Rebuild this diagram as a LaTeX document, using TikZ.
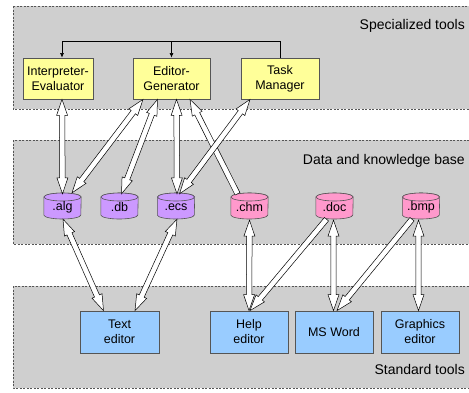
\documentclass[tikz,border=0pt]{standalone}
\usepackage{fontspec}
\setmainfont{Liberation Sans}
\usetikzlibrary{calc,arrows.meta}

\pgfdeclarelayer{panel}
\pgfdeclarelayer{body}
\pgfsetlayers{panel,body,main}

\definecolor{panelgray}{HTML}{CFCFCF}
\definecolor{toolyellow}{HTML}{FFFF99}
\definecolor{dbviolet}{HTML}{CC99FF}
\definecolor{dbpink}{HTML}{FF99CC}
\definecolor{stdblue}{HTML}{99CCFF}
\definecolor{edgegray}{HTML}{555555}

\tikzset{
  panelbox/.style={fill=panelgray, draw=edgegray, dash pattern=on 2pt off 1.5pt, line width=0.6pt},
  panellabel/.style={anchor=base east, font=\fontsize{14}{16}\selectfont, inner sep=0pt},
  toolbox/.style={draw=edgegray, line width=0.8pt, align=center, inner sep=0pt,
    font=\fontsize{12.5}{15}\selectfont},
  drumnode/.style={minimum width=37pt, minimum height=26pt, inner sep=0pt,
    font=\fontsize{12.5}{15}\selectfont},
  drumline/.style={draw=edgegray, line width=0.6pt},
  hollow/.style={fill=white, draw=black, line width=0.5pt, line join=miter},
  busline/.style={draw=black, line width=0.6pt},
  bustip/.style={-{Latex[length=4.5pt,width=4pt]}},
}

% database drum drawn behind the named node #1
\newcommand\drum[2]{%
  \begin{pgfonlayer}{body}
    \filldraw[drumline, fill=#2]
      ($(#1.west)+(0,-10)$) -- ($(#1.west)+(0,8)$)
      arc[start angle=180, end angle=360, x radius=18.5pt, y radius=4pt]
      -- ($(#1.east)+(0,-10)$)
      arc[start angle=0, end angle=180, x radius=18.5pt, y radius=4pt] -- cycle;
    \filldraw[drumline, fill=#2] ($(#1.center)+(0,-10)$)
      ellipse[x radius=18.5pt, y radius=4pt];
  \end{pgfonlayer}}

% hollow block arrow with heads at both ends
\newcommand\twoway[2]{%
  \path[hollow] let \p1=(#1), \p2=(#2), \n1={atan2(\y2-\y1,\x2-\x1)} in
    (\p1)
    -- ($(\p1)+(\n1:16pt)+(\n1+90:5.5pt)$)
    -- ($(\p1)+(\n1:16pt)+(\n1+90:2.7pt)$)
    -- ($(\p2)+(\n1+180:16pt)+(\n1+90:2.7pt)$)
    -- ($(\p2)+(\n1+180:16pt)+(\n1+90:5.5pt)$)
    -- (\p2)
    -- ($(\p2)+(\n1+180:16pt)+(\n1-90:5.5pt)$)
    -- ($(\p2)+(\n1+180:16pt)+(\n1-90:2.7pt)$)
    -- ($(\p1)+(\n1:16pt)+(\n1-90:2.7pt)$)
    -- ($(\p1)+(\n1:16pt)+(\n1-90:5.5pt)$)
    -- cycle;}

% hollow block arrow with a head at the second end only
\newcommand\oneway[2]{%
  \path[hollow] let \p1=(#1), \p2=(#2), \n1={atan2(\y2-\y1,\x2-\x1)} in
    ($(\p1)+(\n1+90:2.7pt)$)
    -- ($(\p2)+(\n1+180:16pt)+(\n1+90:2.7pt)$)
    -- ($(\p2)+(\n1+180:16pt)+(\n1+90:5.5pt)$)
    -- (\p2)
    -- ($(\p2)+(\n1+180:16pt)+(\n1-90:5.5pt)$)
    -- ($(\p2)+(\n1+180:16pt)+(\n1-90:2.7pt)$)
    -- ($(\p1)+(\n1-90:2.7pt)$)
    -- cycle;}

\begin{document}
\begin{tikzpicture}[x=1pt, y=-1pt]
  \useasboundingbox (0,0) rectangle (469,392);

  % three layers of the system
  \begin{pgfonlayer}{panel}
    \fill[white] (0,0) rectangle (469,392);
    \path[panelbox] (13,6) rectangle (480,109);
    \path[panelbox] (13,140) rectangle (480,244);
    \path[panelbox] (13,286) rectangle (480,388);
  \end{pgfonlayer}
  \node[panellabel] (lspec) at (465,29) {Specialized tools};
  \node[panellabel] (ldata) at (465,164) {Data and knowledge base};
  \node[panellabel] (lstd)  at (465,374) {Standard tools};

  % specialized tools
  \node[toolbox, fill=toolyellow, minimum width=70pt, minimum height=41pt] (ie) at (58,78.5) {Interpreter-\\Evaluator};
  \node[toolbox, fill=toolyellow, minimum width=77pt, minimum height=41pt] (eg) at (171.5,78.5) {Editor-\\Generator};
  \node[toolbox, fill=toolyellow, minimum width=78pt, minimum height=41pt] (tm) at (280,78.5) {Task\\Manager};

  % data files
  \node[drumnode] (alg) at (62.5,207) {.alg};
  \node[drumnode] (db)  at (119.5,207) {.db};
  \node[drumnode] (ecs) at (176,207) {.ecs};
  \node[drumnode] (chm) at (249.5,207) {.chm};
  \node[drumnode] (doc) at (334.5,207) {.doc};
  \node[drumnode] (bmp) at (421,207) {.bmp};
  \drum{alg}{dbviolet}
  \drum{db}{dbviolet}
  \drum{ecs}{dbviolet}
  \drum{chm}{dbpink}
  \drum{doc}{dbpink}
  \drum{bmp}{dbpink}

  % standard tools
  \node[toolbox, fill=stdblue, minimum width=79pt, minimum height=42pt] (te) at (119.5,332) {Text\\editor};
  \node[toolbox, fill=stdblue, minimum width=78pt, minimum height=42pt] (he) at (249,332) {Help\\editor};
  \node[toolbox, fill=stdblue, minimum width=78pt, minimum height=42pt] (ms) at (334,332) {MS Word};
  \node[toolbox, fill=stdblue, minimum width=78pt, minimum height=42pt] (ge) at (420,332) {Graphics\\editor};

  % control bus from the task manager
  \coordinate (ietop) at ($(ie.north)+(4,0)$);
  \draw[busline, bustip] (tm.north) |- ($(ietop)+(0,-16)$) -- (ietop);
  \draw[busline, bustip] ($(eg.north)+(0,-16)$) -- (eg.north);

  % attachment points of the block arrows
  \coordinate (ie-s) at ($(ie.south)+(4,0)$);
  \coordinate (eg-s1) at ($(eg.south)+(-28.5,0)$);
  \coordinate (eg-s2) at ($(eg.south)+(-14,0)$);
  \coordinate (eg-s3) at ($(eg.south)+(5,0)$);
  \coordinate (eg-s4) at ($(eg.south)+(18.5,0)$);
  \coordinate (tm-s) at ($(tm.south)+(-30,0)$);
  \coordinate (alg-n1) at (alg.north);
  \coordinate (alg-n2) at ($(alg.north)+(9.5,-1)$);
  \coordinate (db-n) at ($(db.north)+(2,0)$);
  \coordinate (ecs-n1) at ($(ecs.north)+(1,0)$);
  \coordinate (ecs-n2) at ($(ecs.north)+(3.5,0)$);
  \coordinate (chm-n) at ($(chm.north)+(-12,0)$);
  \coordinate (alg-s) at ($(alg.south)+(0.5,-1)$);
  \coordinate (ecs-s) at ($(ecs.south)+(1,-1)$);
  \coordinate (chm-s) at (chm.south);
  \coordinate (doc-s1) at ($(doc.south)+(-8,-1)$);
  \coordinate (doc-s2) at ($(doc.south)+(-1,0)$);
  \coordinate (bmp-s1) at ($(bmp.south)+(-9,-1)$);
  \coordinate (bmp-s2) at ($(bmp.south)+(-2.5,0)$);
  \coordinate (te-n1) at ($(te.north)+(-16,0)$);
  \coordinate (te-n2) at ($(te.north)+(15.5,0)$);
  \coordinate (he-n1) at (he.north);
  \coordinate (he-n2) at ($(he.north)+(1,0)$);
  \coordinate (ms-n1) at ($(ms.north)+(-0.5,0)$);
  \coordinate (ms-n2) at ($(ms.north)+(3,0)$);
  \coordinate (ge-n) at ($(ge.north)+(-1.5,0)$);

  % specialized tools <-> data
  \twoway{ie-s}{alg-n1}
  \twoway{eg-s1}{alg-n2}
  \twoway{eg-s2}{db-n}
  \twoway{eg-s3}{ecs-n1}
  \oneway{chm-n}{eg-s4}
  \twoway{tm-s}{ecs-n2}

  % data <-> standard tools
  \twoway{alg-s}{te-n1}
  \twoway{ecs-s}{te-n2}
  \twoway{chm-s}{he-n1}
  \oneway{doc-s1}{he-n2}
  \twoway{doc-s2}{ms-n1}
  \oneway{bmp-s1}{ms-n2}
  \twoway{bmp-s2}{ge-n}
\end{tikzpicture}
\end{document}
